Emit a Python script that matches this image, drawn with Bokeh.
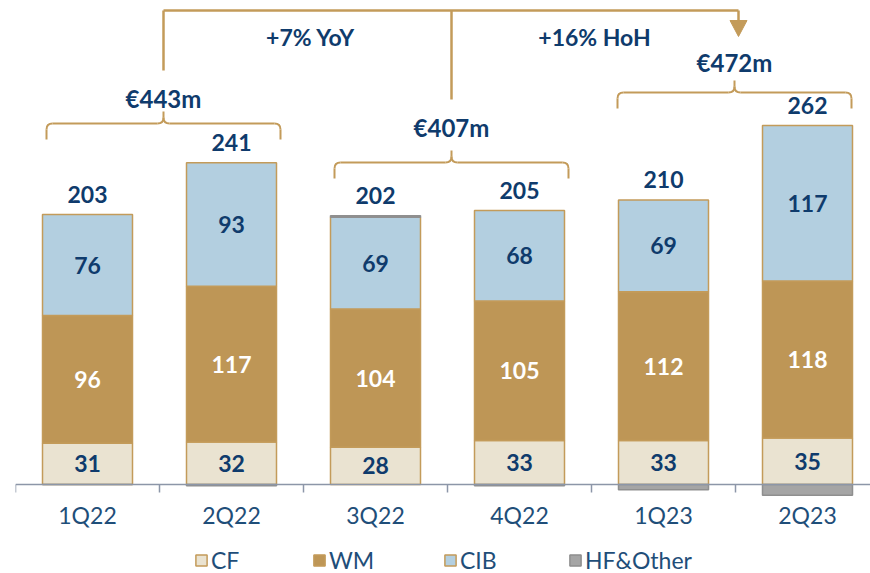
import numpy as np
from bokeh.plotting import figure
from bokeh.models import Legend, LegendItem, Span
from bokeh.core.properties import value
from bokeh.embed import file_html
from bokeh.resources import INLINE

# ---------------- data ----------------
quarters = ["1Q22", "2Q22", "3Q22", "4Q22", "1Q23", "2Q23"]
cf = [31, 32, 28, 33, 33, 35]
wm = [96, 117, 104, 105, 112, 118]
cib = [76, 93, 69, 68, 69, 117]
hf_other = [0, -1, 1, -1, -4, -8]
totals = [203, 241, 202, 205, 210, 262]
series = ["CF", "WM", "CIB", "HF&Other"]
half_totals = ["€443m", "€407m", "€472m"]
growth = ["+7% YoY", "+16% HoH"]

# ---------------- styles ----------------
NAVY = "#0F3B6C"
AXIS_TXT = "#1F4E79"
GOLD = "#C39B5A"
C_CF = "#EAE3D1"
C_WM = "#BE9656"
C_CIB = "#B3CFE0"
C_HF = "#A5A5A5"
C_HF_LINE = "#8F8F8F"
AXIS_LINE = "#8C96A8"
FONT = value("Lato")

PX_PER_UNIT = 1.33
CAT_PX = 144.0

p = figure(width=870, height=573, output_backend="svg", toolbar_location=None,
           x_range=(0, 855 / CAT_PX), y_range=(-89 / PX_PER_UNIT, 476 / PX_PER_UNIT),
           x_axis_type=None, y_axis_type=None,
           min_border_left=15, min_border_right=0, min_border_top=8, min_border_bottom=0)
p.outline_line_color = None
p.grid.visible = False
p.background_fill_color = "white"

x = np.arange(len(quarters)) + 0.5
a_cf, a_wm, a_cib, a_hf = (np.array(v, dtype=float) for v in (cf, wm, cib, hf_other))
top_cf = a_cf
top_wm = top_cf + a_wm
top_cib = top_wm + a_cib
hf_bottom = np.where(a_hf > 0, top_cib, 0.0)
hf_top = hf_bottom + a_hf
pos_top = top_cib + np.maximum(a_hf, 0)

W = 0.625
r_cf = p.vbar(x=x, bottom=0, top=top_cf, width=W, fill_color=C_CF, line_color=GOLD, line_width=1.5)
r_wm = p.vbar(x=x, bottom=top_cf, top=top_wm, width=W, fill_color=C_WM, line_color=GOLD, line_width=1.5)
r_cib = p.vbar(x=x, bottom=top_wm, top=top_cib, width=W, fill_color=C_CIB, line_color=GOLD, line_width=1.5)
r_hf = p.vbar(x=x, bottom=hf_bottom, top=hf_top, width=W, fill_color=C_HF, line_color=C_HF_LINE, line_width=1.5)

# axis line and ticks
p.add_layout(Span(location=0, dimension="width", line_color=AXIS_LINE, line_width=1.5))
tick_x = np.arange(len(quarters) + 1)
p.segment(x0=tick_x, y0=0, x1=tick_x, y1=-8 / PX_PER_UNIT, line_color=AXIS_LINE, line_width=1.5)
p.text(x=x, y=-30 / PX_PER_UNIT, text=quarters, text_font=FONT, text_font_size="23px",
       text_color=AXIS_TXT, text_align="center", text_baseline="middle")

# segment labels
lab_kw = dict(text_font=FONT, text_font_style="bold", text_font_size="23px",
              text_align="center", text_baseline="middle")
p.text(x=x, y=top_cf / 2, text=[str(v) for v in cf], text_color=NAVY, **lab_kw)
p.text(x=x, y=(top_cf + top_wm) / 2, text=[str(v) for v in wm], text_color="white", **lab_kw)
p.text(x=x, y=(top_wm + top_cib) / 2, text=[str(v) for v in cib], text_color=NAVY, **lab_kw)
p.text(x=x, y=pos_top, y_offset=-20, text=[str(v) for v in totals], text_color=NAVY, **lab_kw)

# ---------------- brackets ----------------
def py(v):  # page pixel y -> data y (layout helper for annotations)
    return (484 - v) / PX_PER_UNIT

def px(v):  # page pixel x -> data x
    return (v - 15) / CAT_PX

rx, ry = 6 / CAT_PX, 6 / PX_PER_UNIT

def bracket(x0, x1, yh, drop, rise):
    xc = (x0 + x1) / 2
    seg_x0, seg_y0, seg_x1, seg_y1 = [], [], [], []
    def seg(a, b, c, d):
        seg_x0.append(a); seg_y0.append(b); seg_x1.append(c); seg_y1.append(d)
    seg(x0, yh - drop, x0, yh - ry)
    seg(x1, yh - drop, x1, yh - ry)
    seg(x0 + rx, yh, xc - rx, yh)
    seg(xc + rx, yh, x1 - rx, yh)
    seg(xc, yh + ry, xc, yh + rise)
    p.segment(x0=seg_x0, y0=seg_y0, x1=seg_x1, y1=seg_y1, line_color=GOLD, line_width=2)
    p.quadratic(x0=[x0, x1, xc - rx, xc + rx], y0=[yh - ry, yh - ry, yh, yh],
                x1=[x0 + rx, x1 - rx, xc, xc], y1=[yh, yh, yh + ry, yh + ry],
                cx=[x0, x1, xc, xc], cy=[yh, yh, yh, yh], line_color=GOLD, line_width=2)
    return xc

br_specs = [  # (x0, x1, y_horizontal, y_text)
    (px(46), px(280), py(123), py(98)),
    (px(334), px(568), py(162), py(127)),
    (px(617), px(851), py(92), py(62)),
]
centers = []
for (bx0, bx1, byh, byt), lab in zip(br_specs, half_totals):
    xc = bracket(bx0, bx1, byh, 16 / PX_PER_UNIT, 12 / PX_PER_UNIT)
    centers.append(xc)
    p.text(x=[xc], y=[byt], text=[lab], text_color=NAVY, text_font=FONT, text_font_style="bold",
           text_font_size="24px", text_align="center", text_baseline="middle")

# connector on top
y_top = py(10)
arrow_x = px(738)
p.segment(x0=[centers[0], centers[0], centers[1], arrow_x],
          y0=[py(70), y_top, y_top, y_top],
          x1=[centers[0], arrow_x, centers[1], arrow_x],
          y1=[y_top, y_top, py(99), py(21)],
          line_color=GOLD, line_width=2.5)
p.patch(x=[px(729.5), px(746.5), arrow_x], y=[py(20), py(20), py(36)], fill_color=GOLD, line_color=GOLD)

p.text(x=[px(310), px(594)], y=[py(36), py(36)], text=growth, text_color=NAVY, text_font=FONT,
       text_font_style="bold", text_font_size="23px", text_align="center", text_baseline="middle")

# ---------------- legends ----------------
for rend, name, lx in zip([r_cf, r_wm, r_cib, r_hf], series, [179, 297, 428, 553]):
    lg = Legend(items=[LegendItem(label=name, renderers=[rend])], location=(lx, -1),
                orientation="horizontal", padding=0, margin=0, spacing=0,
                label_standoff=3, glyph_width=14, glyph_height=14,
                label_text_font="Lato", label_text_font_size="23px", label_text_color=AXIS_TXT,
                border_line_color=None, background_fill_alpha=0)
    p.add_layout(lg)

open("out.html", "w").write(file_html(p, INLINE))
